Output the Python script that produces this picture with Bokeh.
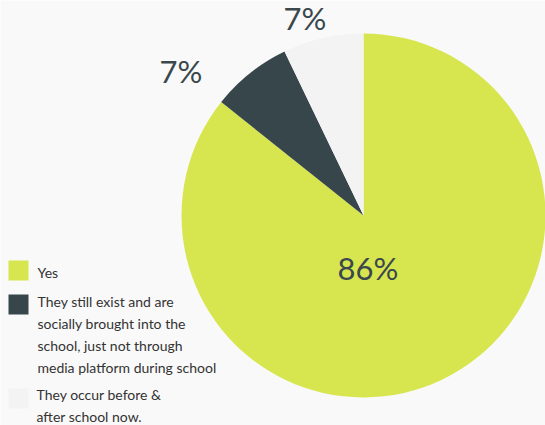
import numpy as np
from bokeh.plotting import figure
from bokeh.models import Range1d, ColumnDataSource
from bokeh.embed import file_html
from bokeh.resources import INLINE
from bokeh.core.properties import value

# ---- data ----
categories = [
    "Yes",
    "They still exist and are\nsocially brought into the\nschool, just not through\nmedia platform during school",
    "They occur before &\nafter school now.",
]
counts = [12, 1, 1]
pct_labels = ["86%", "7%", "7%"]
colors = ["#d7e64e", "#37464b", "#f3f3f3"]

# ---- layout (image pixel coords -> data coords) ----
W, H = 545, 425
def px(x):
    return x
def py(y):
    return H - y

FONT = "Lato"
TEXT_COLOR = "#3a474c"

p = figure(width=W, height=H, output_backend="svg", toolbar_location=None,
           x_range=Range1d(0, W), y_range=Range1d(0, H), min_border=0,
           x_axis_type=None, y_axis_type=None,
           background_fill_color="#f9f9f9", border_fill_color="#f9f9f9",
           outline_line_color=None)
p.grid.visible = False

# pie
vals = np.array(counts, dtype=float)
frac = vals / vals.sum()
cum = np.cumsum(frac)
prev = np.concatenate([[0.0], cum[:-1]])
start = np.pi / 2 - 2 * np.pi * prev
end = np.pi / 2 - 2 * np.pi * cum
cx, cy, R = px(363), py(215), 182
src = ColumnDataSource(dict(start=start, end=end, color=colors,
                            x=[cx] * 3, y=[cy] * 3))
p.wedge(x="x", y="y", radius=R, start_angle="start", end_angle="end",
        direction="clock", fill_color="color", line_color=None, source=src)

# percentage labels
lab_pos = [(367.5, 267), (180.5, 70), (304.5, 17)]
p.text(x=[px(a) for a, b in lab_pos], y=[py(b) for a, b in lab_pos],
       text=pct_labels, text_font=value(FONT), text_font_size="31px",
       text_color=TEXT_COLOR, text_align="center", text_baseline="middle")

# legend
sq_y = [270, 304, 398]
p.rect(x=[px(18)] * 3, y=[py(v) for v in sq_y], width=20, height=20,
       fill_color=colors, line_color=None)
first_line = [272, 301, 394]
text_x = [37, 37, 36]
LH = 22
lx, ly, lt = [], [], []
for c, f, tx in zip(categories, first_line, text_x):
    for i, line in enumerate(c.split("\n")):
        lx.append(px(tx))
        ly.append(py(f + i * LH))
        lt.append(line)
p.text(x=lx, y=ly, text=lt, text_font=value(FONT), text_font_size="14px",
       text_color="#333333", text_align="left", text_baseline="middle")

open("out.html", "w").write(file_html(p, INLINE))
